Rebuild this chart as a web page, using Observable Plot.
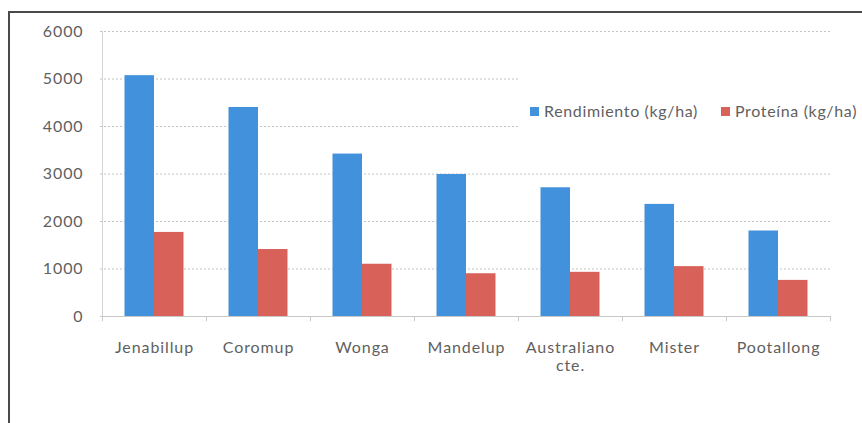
<!DOCTYPE html>
<html>
<head>
<meta charset="utf-8">
<script src="https://cdn.jsdelivr.net/npm/d3@7"></script>
<script src="https://cdn.jsdelivr.net/npm/@observablehq/plot@0.6"></script>
<style>
  html, body { margin: 0; padding: 0; background: #fff; }
  #wrap { position: relative; width: 862px; height: 423px; overflow: hidden; font-family: Lato, "Open Sans", sans-serif; }
  #frameTop { position: absolute; left: 8px; top: 11px; width: 854px; height: 2px; background: #4a4a4a; }
  #frameLeft { position: absolute; left: 8px; top: 11px; width: 2px; height: 412px; background: #4a4a4a; }
  #legend { position: absolute; left: 520px; top: 64px; width: 342px; height: 86px; background: #fff;
            font-size: 16px; letter-spacing: 0.65px; color: #5f5f5f; }
  #legend .item { position: absolute; top: 37px; white-space: nowrap; }
  #legend .sw { display: inline-block; width: 9px; height: 9px; margin-right: 5px; vertical-align: 1px; }
  #chart svg text { letter-spacing: 0.9px; }
</style>
</head>
<body>
<div id="wrap">
  <div id="chart"></div>
  <div id="legend"></div>
  <div id="frameTop"></div>
  <div id="frameLeft"></div>
</div>
<script>
const categories = ["Jenabillup", "Coromup", "Wonga", "Mandelup", "Australiano\ncte.", "Mister", "Pootallong"];
const rendimiento = [5070, 4400, 3420, 2990, 2710, 2360, 1800];
const proteina = [1770, 1410, 1100, 900, 930, 1050, 760];
const seriesNames = ["Rendimiento (kg/ha)", "Proteína (kg/ha)"];
const seriesColors = ["#4291dc", "#d8625a"];
const yTicks = [0, 1000, 2000, 3000, 4000, 5000, 6000];

const W = 862, H = 423;
const mL = 102, mR = 32, mT = 31, mB = 107;
const step = (W - mL - mR) / categories.length;
const half = step / 2;
const inner = 22.5; // outer gap inside each band

const rows = [];
categories.forEach((c, i) => {
  rows.push({cat: c, series: seriesNames[0], value: rendimiento[i]});
  rows.push({cat: c, series: seriesNames[1], value: proteina[i]});
});
const blue = rows.filter(d => d.series === seriesNames[0]);
const red = rows.filter(d => d.series === seriesNames[1]);

const chart = Plot.plot({
  width: W,
  height: H,
  marginLeft: mL,
  marginRight: mR,
  marginTop: mT,
  marginBottom: mB,
  style: {fontFamily: "Lato, 'Open Sans', sans-serif", fontSize: "16px", color: "#5f5f5f", background: "#fff"},
  x: {domain: categories, padding: 0, label: null},
  y: {domain: [0, 6000], label: null},
  marks: [
    Plot.gridY(yTicks, {stroke: "#c4c4c4", strokeOpacity: 1, strokeDasharray: "2,2", insetLeft: -2, insetRight: -2}),
    Plot.axisY(yTicks, {tickSize: 0, tickPadding: 19, fill: "#5f5f5f", fontSize: 16, label: null, tickFormat: d => String(d)}),
    Plot.axisX({tickSize: 0, tickPadding: 23, fill: "#5f5f5f", fontSize: 16, label: null, lineHeight: 1.15}),
    Plot.barY(blue, {x: "cat", y: "value", fill: seriesColors[0], insetLeft: inner, insetRight: half}),
    Plot.barY(red, {x: "cat", y: "value", fill: seriesColors[1], insetLeft: half, insetRight: inner}),
    Plot.ruleY([0], {stroke: "#c8c8c8", insetLeft: -2}),
    Plot.ruleX([categories[0]], {dx: -half, stroke: "#d4d4d4"}),
    Plot.ruleX(categories, {x: d => d, dx: -half, y1: 0, y2: 0, insetBottom: -5, stroke: "#c8c8c8"}),
    Plot.ruleX([categories[categories.length - 1]], {dx: half, y1: 0, y2: 0, insetBottom: -5, stroke: "#c8c8c8"})
  ]
});
document.getElementById("chart").appendChild(chart);

const legend = document.getElementById("legend");
const positions = [10, 201];
seriesNames.forEach((name, i) => {
  const item = document.createElement("div");
  item.className = "item";
  item.style.left = positions[i] + "px";
  const sw = document.createElement("span");
  sw.className = "sw";
  sw.style.background = seriesColors[i];
  item.appendChild(sw);
  item.appendChild(document.createTextNode(name));
  legend.appendChild(item);
});
</script>
</body>
</html>
